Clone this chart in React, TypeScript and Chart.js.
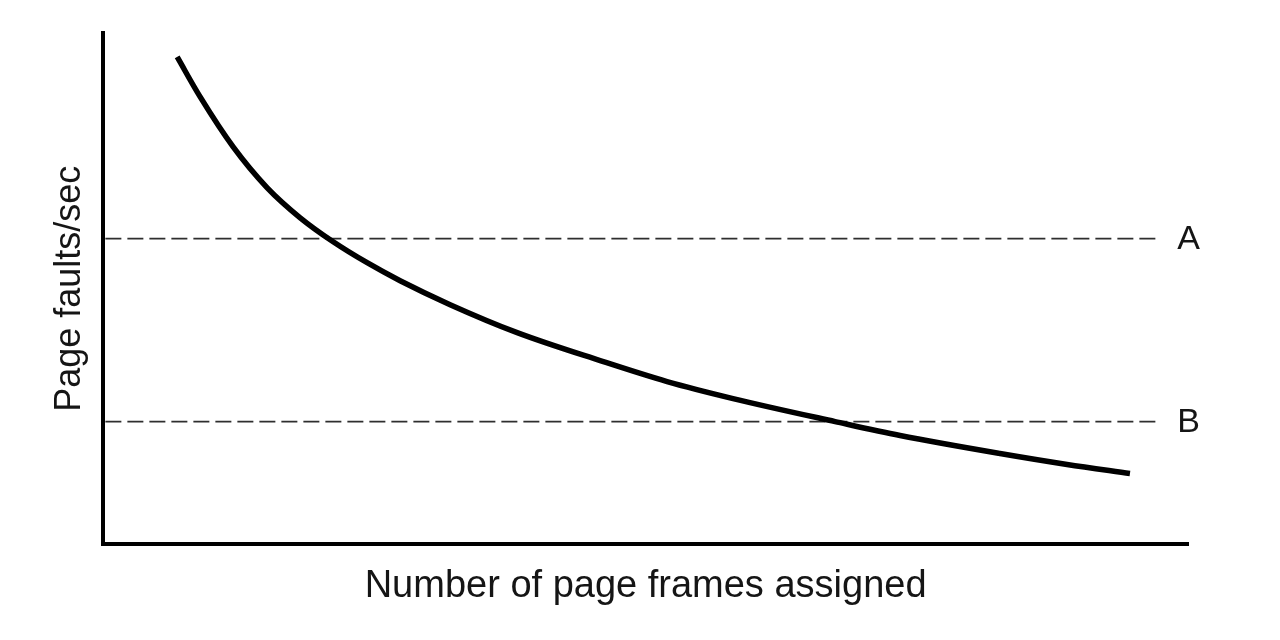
import React, { useEffect, useRef } from "react";
import { Chart, registerables } from "chart.js";

Chart.register(...registerables);

// Curve: page faults/sec vs number of page frames assigned (relative units 0..100)
const curveX = [6.82, 8.94, 11.98, 15.12, 18.16, 21.2, 24.33, 27.37, 31.98, 38.16, 45.81, 51.98, 58.06, 67.47, 73.46, 82.67, 88.85, 94.65];
const curveY = [95.31, 87.5, 77.73, 69.73, 63.87, 59.18, 55.08, 51.56, 46.88, 41.41, 35.94, 31.84, 28.52, 24.02, 21.29, 17.77, 15.63, 13.87];

// Horizontal thresholds
const thresholdLabels = ["A", "B"];
const thresholdValues = [59.8, 24.0];
const thresholdStartX = 0.2;
const thresholdEndX = 97.2;

const xTitle = "Number of page frames assigned";
const yTitle = "Page faults/sec";

const FONT = "'Liberation Sans', Arial, Helvetica, sans-serif";
const INK = "#151515";

const thresholdLabelPlugin = {
  id: "thresholdLabels",
  afterDatasetsDraw(chart: any) {
    const ctx = chart.ctx;
    ctx.save();
    ctx.font = `34px ${FONT}`;
    ctx.fillStyle = INK;
    ctx.textAlign = "center";
    ctx.textBaseline = "middle";
    chart.data.datasets.forEach((ds: any, i: number) => {
      if (!ds.thresholdLabel) return;
      const meta = chart.getDatasetMeta(i);
      const last = meta.data[meta.data.length - 1];
      if (!last) return;
      ctx.fillText(ds.thresholdLabel, last.x + 31, last.y + 1);
    });
    ctx.restore();
  },
};

export default function App() {
  const canvasRef = useRef<HTMLCanvasElement | null>(null);

  useEffect(() => {
    if (!canvasRef.current) return;
    const curveData = curveX.map((x, i) => ({ x, y: curveY[i] }));
    const thresholdSets = thresholdValues.map((v, i) => ({
      label: thresholdLabels[i],
      thresholdLabel: thresholdLabels[i],
      data: [
        { x: thresholdStartX, y: v },
        { x: thresholdEndX, y: v },
      ],
      borderColor: "#2e2e2e",
      borderWidth: 1.8,
      borderDash: [16, 6],
      pointRadius: 0,
      fill: false,
      order: 2,
    }));

    const chart = new Chart(canvasRef.current, {
      type: "line",
      data: {
        datasets: [
          {
            label: "Page faults",
            data: curveData,
            borderColor: "#000000",
            borderWidth: 5.5,
            borderCapStyle: "butt",
            pointRadius: 0,
            cubicInterpolationMode: "monotone",
            fill: false,
            order: 1,
          } as any,
          ...(thresholdSets as any[]),
        ],
      },
      options: {
        animation: false,
        responsive: false,
        maintainAspectRatio: false,
        layout: { padding: { top: 33, right: 92, left: 0, bottom: 0 } },
        plugins: {
          legend: { display: false },
          tooltip: { enabled: false },
        },
        scales: {
          x: {
            type: "linear",
            min: 0,
            max: 100,
            grid: { display: false, drawTicks: false },
            border: { display: true, color: "#000000", width: 4 },
            ticks: { display: false },
            title: {
              display: true,
              text: xTitle,
              color: INK,
              font: { family: FONT, size: 38, lineHeight: 1.2 },
              padding: { top: 19, bottom: 31 },
            },
          },
          y: {
            type: "linear",
            min: 0,
            max: 100,
            grid: { display: false, drawTicks: false },
            border: { display: true, color: "#000000", width: 4 },
            ticks: { display: false },
            title: {
              display: true,
              text: yTitle,
              color: INK,
              font: { family: FONT, size: 36, lineHeight: 1.2 },
              padding: { top: 48, bottom: 12 },
            },
          },
        },
      },
      plugins: [thresholdLabelPlugin],
    });
    return () => chart.destroy();
  }, []);

  return (
    <div style={{ position: "fixed", left: 0, top: 0, width: 1280, height: 640, background: "#ffffff" }}>
      <canvas ref={canvasRef} width={1280} height={640} style={{ width: 1280, height: 640, display: "block" }} />
    </div>
  );
}
